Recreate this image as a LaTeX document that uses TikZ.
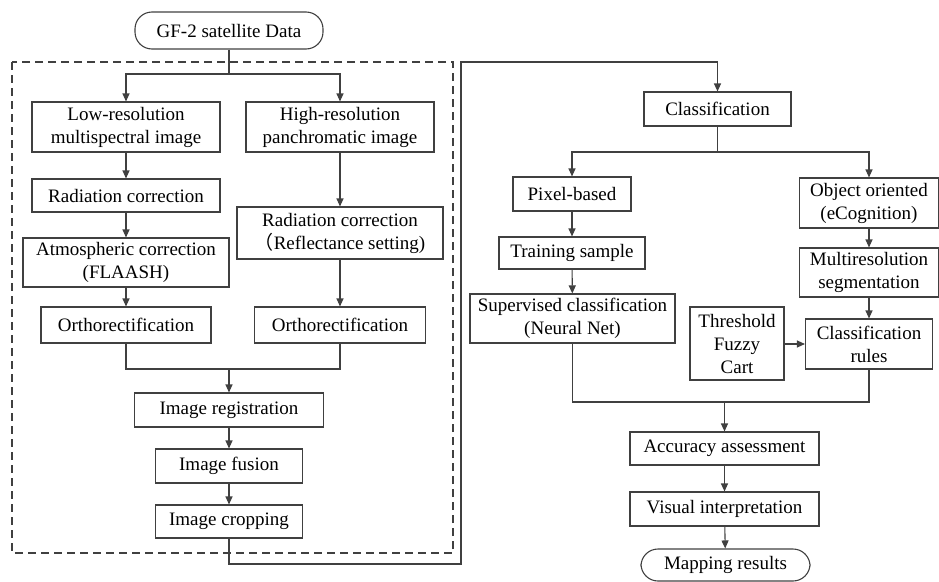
\documentclass[tikz,border=0pt]{standalone}
\usepackage{fontspec}
\setmainfont{Liberation Serif}
\newfontfamily\cjkfont{Noto Sans CJK SC}
\usetikzlibrary{arrows.meta}
\definecolor{ln}{HTML}{404040}
\tikzset{
  box/.style={draw=ln, line width=1.1pt, rectangle, align=center, inner sep=0pt,
              font=\fontsize{19}{23}\selectfont, text=black},
  term/.style={box, rounded corners=17pt},
  conn/.style={draw=ln, line width=1.1pt},
  arr/.style={conn, -{Triangle[length=8pt,width=7pt]}},
  frame/.style={draw=ln, line width=1.3pt, dash pattern=on 8pt off 5pt}
}
\begin{document}
\begin{tikzpicture}[x=1pt,y=-1pt]
\useasboundingbox (0,0) rectangle (939,581);
% dashed frame
\draw[frame] (12,62) rectangle (453,553);
% left column
\node[term, minimum width=188pt, minimum height=37pt] (gf) at (229,30.5) {GF-2 satellite Data};
\node[box, minimum width=188pt, minimum height=50pt] (low) at (126,127) {Low-resolution\\multispectral image};
\node[box, minimum width=188pt, minimum height=50pt] (high) at (340,127) {High-resolution\\panchromatic image};
\node[box, minimum width=188pt, minimum height=33pt] (rad1) at (126,195.5) {Radiation correction};
\node[box, minimum width=206pt, minimum height=49pt] (atm) at (126,262.5) {Atmospheric correction\\(FLAASH)};
\node[box, minimum width=206pt, minimum height=52pt] (rad2) at (340,233) {Radiation correction\\{\cjkfont （}Reflectance setting)};
\node[box, minimum width=170pt, minimum height=36pt] (ortho1) at (126,325) {Orthorectification};
\node[box, minimum width=171pt, minimum height=36pt] (ortho2) at (340,325) {Orthorectification};
\node[box, minimum width=189pt, minimum height=34pt] (reg) at (229,410) {Image registration};
\node[box, minimum width=147pt, minimum height=34pt] (fus) at (229,466) {Image fusion};
\node[box, minimum width=147pt, minimum height=33pt] (crop) at (229,521.5) {Image cropping};
% right column
\node[box, minimum width=147pt, minimum height=34pt] (cls) at (717.5,109) {Classification};
\node[box, minimum width=118pt, minimum height=34pt] (pix) at (572,194) {Pixel-based};
\node[box, minimum width=146pt, minimum height=32pt] (train) at (572,253) {Training sample};
\node[box, minimum width=205pt, minimum height=49pt] (sup) at (572.5,318.5) {Supervised classification\\(Neural Net)};
\node[box, minimum width=139pt, minimum height=50pt] (obj) at (869,203) {Object oriented\\(eCognition)};
\node[box, minimum width=139pt, minimum height=49pt] (multi) at (869,272.5) {Multiresolution\\segmentation};
\node[box, minimum width=127pt, minimum height=50pt] (rules) at (869,344) {Classification\\rules};
\node[box, minimum width=94pt, minimum height=73pt] (thr) at (737,343.5) {Threshold\\Fuzzy\\Cart};
\node[box, minimum width=189pt, minimum height=33pt] (acc) at (724.5,448.5) {Accuracy assessment};
\node[box, minimum width=189pt, minimum height=34pt] (vis) at (724.5,509) {Visual interpretation};
\node[term, minimum width=169pt, minimum height=32pt] (map) at (725.5,565) {Mapping results};
% coordinates
\coordinate (b1) at (229,74);
\coordinate (m1) at (229,369);
\coordinate (c1) at (461,564);
\coordinate (c2) at (461,62);
\coordinate (b2) at (717.5,152);
\coordinate (m2) at (724.5,402);
% left connectors
\draw[conn] (gf.south) -- (b1);
\draw[arr] (b1) -| (low.north);
\draw[arr] (b1) -| (high.north);
\draw[arr] (low) -- (rad1);
\draw[arr] (rad1) -- (atm);
\draw[arr] (atm) -- (ortho1);
\draw[arr] (high) -- (rad2);
\draw[arr] (rad2) -- (ortho2);
\draw[conn] (ortho1.south) |- (m1) -| (ortho2.south);
\draw[arr] (m1) -- (reg.north);
\draw[arr] (reg) -- (fus);
\draw[arr] (fus) -- (crop);
\draw[arr] (crop.south) |- (c1) -- (c2) -| (cls.north);
% right connectors
\draw[conn] (cls.south) -- (b2);
\draw[arr] (b2) -| (pix.north);
\draw[arr] (b2) -| (obj.north);
\draw[arr] (pix) -- (train);
\draw[arr] (train) -- (sup);
\draw[arr] (obj) -- (multi);
\draw[arr] (multi) -- (rules);
\draw[arr] (thr.east |- rules.west) -- (rules.west);
\draw[conn] (sup.south) |- (m2) -| (rules.south);
\draw[arr] (m2) -- (acc.north);
\draw[arr] (acc) -- (vis);
\draw[arr] (vis) -- (map);
\end{tikzpicture}
\end{document}
